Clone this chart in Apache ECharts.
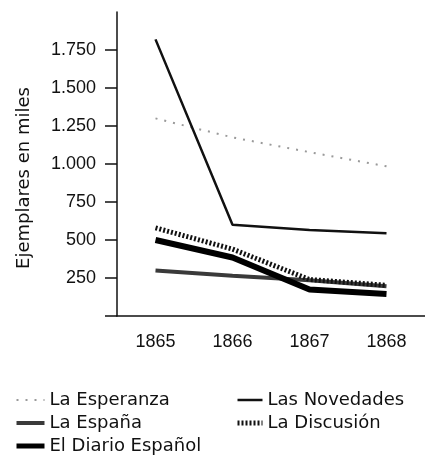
<!DOCTYPE html>
<html lang="es">
  <head>
    <meta charset="UTF-8" />
    <title>Ejemplares en miles</title>
    <script src="https://cdn.jsdelivr.net/npm/echarts@6/dist/echarts.min.js"></script>
    <style>
      html, body { margin: 0; padding: 0; background: #fff; }
    </style>
  </head>
  <body>
    <div id="main" style="width: 425px; height: 473px"></div>
    <script type="text/javascript">
      // years on the x axis
      const years = ["1865", "1866", "1867", "1868"];

      // copies per newspaper, in thousands
      const esperanza = [1300, 1175, 1078, 985];
      const novedades = [1820, 600, 566, 545];
      const espana = [300, 265, 235, 195];
      const discusion = [580, 440, 240, 202];
      const diario = [500, 385, 175, 145];

      const yTicks = [0, 250, 500, 750, 1000, 1250, 1500, 1750];
      const yLabels = [250, 500, 750, 1000, 1250, 1500, 1750];

      // 1750 -> "1.750"
      function fmt(v) {
        return String(v).replace(/\B(?=(\d{3})+(?!\d))/g, ".");
      }

      const myChart = echarts.init(document.getElementById("main"));

      const tickFont = { fontFamily: "Liberation Sans", fontSize: 18, color: "#111" };
      const legendText = { fontFamily: "DejaVu Sans", fontSize: 18, color: "#111" };

      // one style per newspaper, used by the series and its legend entry
      const styles = {
        "La Esperanza": { color: "#9a9a9a", width: 2, type: [2, 7] },
        "La España": { color: "#3a3a3a", width: 4, type: "solid" },
        "Las Novedades": { color: "#111", width: 2.5, type: "solid" },
        "La Discusión": { color: "#111", width: 5, type: [2, 2] },
        "El Diario Español": { color: "#000", width: 6, type: "solid" },
      };

      function line(name, data) {
        const s = styles[name];
        return {
          name: name,
          type: "line",
          data: data,
          symbol: "none",
          color: s.color,
          lineStyle: { color: s.color, width: s.width, type: s.type },
        };
      }

      function entry(name) {
        const s = styles[name];
        return {
          name: name,
          lineStyle: { color: s.color, width: Math.min(s.width, 5), type: s.type },
        };
      }

      const options = {
        animation: false,
        grid: { left: 117, top: 12, right: -1, bottom: 157 },
        xAxis: {
          type: "category",
          data: years,
          boundaryGap: true,
          axisLine: { lineStyle: { color: "#111", width: 1.5 } },
          axisTick: { length: 14, lineStyle: { color: "#111", width: 1.5 } },
          axisLabel: Object.assign({ margin: 17 }, tickFont),
        },
        yAxis: {
          type: "value",
          min: 0,
          max: 2000,
          interval: 250,
          name: "Ejemplares en miles",
          nameLocation: "middle",
          nameRotate: 90,
          nameGap: 84,
          nameTextStyle: {
            fontFamily: "DejaVu Sans",
            fontSize: 18,
            color: "#111",
            padding: [0, 28, 0, 0],
          },
          splitLine: { show: false },
          axisLine: { show: true, lineStyle: { color: "#111", width: 1.5 } },
          axisTick: {
            show: true,
            length: 12,
            customValues: yTicks,
            lineStyle: { color: "#111", width: 1.5 },
          },
          axisLabel: Object.assign(
            { margin: 21, customValues: yLabels, formatter: fmt },
            tickFont
          ),
        },
        legend: [
          {
            orient: "vertical",
            left: 14,
            top: 391,
            padding: 0,
            itemWidth: 28,
            itemHeight: 14,
            itemGap: 5,
            itemStyle: { opacity: 0 },
            textStyle: legendText,
            data: ["La Esperanza", "La España", "El Diario Español"].map(entry),
          },
          {
            orient: "vertical",
            left: 235,
            top: 391,
            padding: 0,
            itemWidth: 25,
            itemHeight: 14,
            itemGap: 5,
            itemStyle: { opacity: 0 },
            textStyle: legendText,
            data: ["Las Novedades", "La Discusión"].map(entry),
          },
        ],
        series: [
          line("La Esperanza", esperanza),
          line("La España", espana),
          line("Las Novedades", novedades),
          line("La Discusión", discusion),
          line("El Diario Español", diario),
        ],
      };

      myChart.setOption(options);
    </script>
  </body>
</html>
